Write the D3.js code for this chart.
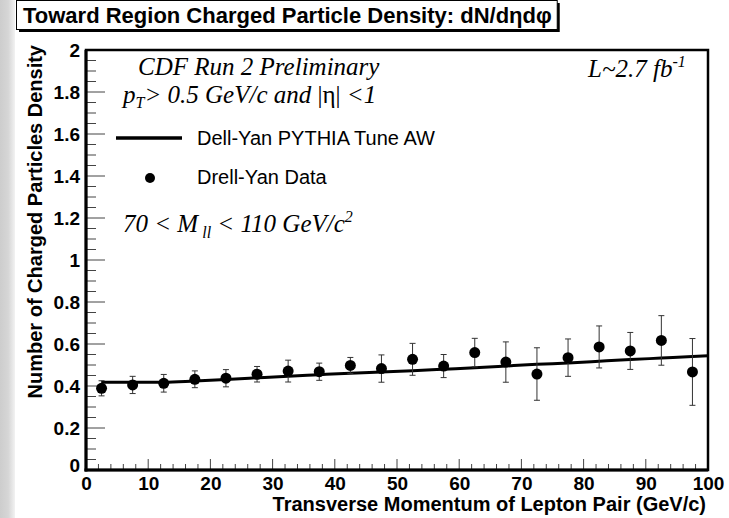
<!DOCTYPE html>
<html>
<head>
<meta charset="utf-8">
<script src="https://cdn.jsdelivr.net/npm/d3@7"></script>
<style>
    body { margin: 0; background: #fff; }
    svg { display: block; }
</style>
</head>
<body>
<svg class="svg" width="729" height="518"></svg>
<script>
// bin centres (GeV/c)
const ptBins = [2.5, 7.5, 12.5, 17.5, 22.5, 27.5, 32.5, 37.5, 42.5, 47.5,
                52.5, 57.5, 62.5, 67.5, 72.5, 77.5, 82.5, 87.5, 92.5, 97.5];
// Drell-Yan data
const dataDensity = [0.389, 0.405, 0.413, 0.432, 0.437, 0.456, 0.471, 0.468, 0.498, 0.483,
                     0.527, 0.495, 0.559, 0.514, 0.457, 0.535, 0.586, 0.567, 0.617, 0.467];
const dataError = [0.036, 0.041, 0.042, 0.040, 0.041, 0.037, 0.052, 0.041, 0.038, 0.065,
                   0.076, 0.055, 0.068, 0.096, 0.125, 0.089, 0.100, 0.088, 0.118, 0.159];
// PYTHIA Tune AW curve
const tuneX = [2.5, 7.5, 12.5, 17.5, 22.5, 27.5, 32.5, 37.5, 42.5, 47.5, 52.5,
               57.5, 62.5, 67.5, 72.5, 77.5, 82.5, 87.5, 92.5, 97.5, 100];
const tuneY = [0.418, 0.418, 0.418, 0.424, 0.431, 0.439, 0.447, 0.454, 0.461, 0.467, 0.473,
               0.480, 0.487, 0.495, 0.503, 0.510, 0.518, 0.526, 0.533, 0.540, 0.544];

const xTicks = [0, 10, 20, 30, 40, 50, 60, 70, 80, 90, 100];
const yTicks = [0, 0.2, 0.4, 0.6, 0.8, 1, 1.2, 1.4, 1.6, 1.8, 2];

const title = 'Toward Region Charged Particle Density: dN/dηdφ';
const xTitle = 'Transverse Momentum of Lepton Pair (GeV/c)';
const yTitle = 'Number of Charged Particles Density';
const legendLine = 'Dell-Yan PYTHIA Tune AW';
const legendData = 'Drell-Yan Data';

const width = 729;
const height = 518;
const padding = { top: 50, right: 21, down: 48, left: 86 };

const sans = 'Liberation Sans, Arial, Helvetica, sans-serif';
const serif = 'Liberation Serif, Times New Roman, serif';

const svg = d3.select('.svg');

/* left grey strip */
const grad = svg.append('defs').append('linearGradient')
    .attr('id', 'strip').attr('x1', 0).attr('x2', 1);
grad.append('stop').attr('offset', '0%').attr('stop-color', '#cdcdcd');
grad.append('stop').attr('offset', '55%').attr('stop-color', '#d6d6d6');
grad.append('stop').attr('offset', '100%').attr('stop-color', '#f2f2f2');
svg.append('rect')
    .attr('x', 0).attr('y', 0)
    .attr('width', 15).attr('height', height)
    .attr('fill', 'url(#strip)');

/* X SCALE */
const xScale = d3.scaleLinear()
    .domain([0, 100])
    .range([padding.left, width - padding.right]);

/* Y SCALE */
const yScale = d3.scaleLinear()
    .domain([0, 2])
    .range([height - padding.down, padding.top]);

/* minor ticks */
const xMinor = d3.range(0, 101, 2);
const yMinor = d3.range(0, 2.001, 0.05);

const xAxis = d3.axisBottom(xScale)
    .tickValues(xTicks)
    .tickFormat(d3.format('d'))
    .tickSize(0)
    .tickPadding(7);
const yAxis = d3.axisLeft(yScale)
    .tickValues(yTicks)
    .tickFormat(d => d % 1 === 0 ? d3.format('d')(d) : d3.format('.1f')(d))
    .tickSize(0)
    .tickPadding(6);

const gx = svg.append('g')
    .attr('id', 'x-axis')
    .attr('transform', `translate(0, ${height - padding.down})`)
    .call(xAxis);
const gy = svg.append('g')
    .attr('id', 'y-axis')
    .attr('transform', `translate(${padding.left}, 0)`)
    .call(yAxis);
[gx, gy].forEach(g => {
    g.select('.domain').remove();
    g.selectAll('text')
        .attr('fill', '#000')
        .style('font-family', sans)
        .style('font-weight', 'bold')
        .style('font-size', '19px');
});
gx.selectAll('text').attr('dy', '0.68em');
gy.selectAll('.tick text').attr('dy', '0.36em');
gy.selectAll('.tick').filter(d => d === 0).select('text').attr('dy', '0.1em');

/* tick marks inside the frame */
svg.append('g').selectAll('line')
    .data(xMinor).enter()
    .append('line')
    .attr('x1', d => xScale(d)).attr('x2', d => xScale(d))
    .attr('y1', yScale(0))
    .attr('y2', d => yScale(0) - (d % 10 === 0 ? 11 : 6))
    .attr('stroke', '#444').attr('stroke-width', 1);
svg.append('g').selectAll('line')
    .data(yMinor).enter()
    .append('line')
    .attr('y1', d => yScale(d)).attr('y2', d => yScale(d))
    .attr('x1', xScale(0))
    .attr('x2', d => xScale(0) + (Math.abs(d * 5 - Math.round(d * 5)) < 1e-6 ? 19 : 10))
    .attr('stroke', '#444').attr('stroke-width', 1);

/* frame */
svg.append('rect')
    .attr('x', xScale(0)).attr('y', yScale(2))
    .attr('width', xScale(100) - xScale(0))
    .attr('height', yScale(0) - yScale(2))
    .attr('fill', 'none')
    .attr('stroke', '#000').attr('stroke-width', 2.5);
svg.append('line')
    .attr('x1', xScale(0)).attr('x2', xScale(0))
    .attr('y1', yScale(2)).attr('y2', yScale(0) + 1.5)
    .attr('stroke', '#000').attr('stroke-width', 3);
svg.append('line')
    .attr('x1', xScale(0) - 1.5).attr('x2', xScale(100))
    .attr('y1', yScale(0)).attr('y2', yScale(0))
    .attr('stroke', '#000').attr('stroke-width', 3);

/* PYTHIA curve */
const line = d3.line()
    .x((d, i) => xScale(tuneX[i]))
    .y(d => yScale(d))
    .curve(d3.curveMonotoneX);
svg.append('path')
    .datum(tuneY)
    .attr('d', line)
    .attr('fill', 'none')
    .attr('stroke', '#000')
    .attr('stroke-width', 3);

/* error bars */
const bars = svg.append('g').attr('class', 'errors');
bars.selectAll('line.err')
    .data(dataDensity).enter()
    .append('line')
    .attr('class', 'err')
    .attr('x1', (d, i) => xScale(ptBins[i])).attr('x2', (d, i) => xScale(ptBins[i]))
    .attr('y1', (d, i) => yScale(d - dataError[i]))
    .attr('y2', (d, i) => yScale(d + dataError[i]))
    .attr('stroke', '#333').attr('stroke-width', 1);
[1, -1].forEach(s => {
    bars.selectAll(`line.cap${s > 0 ? 'top' : 'bot'}`)
        .data(dataDensity).enter()
        .append('line')
        .attr('class', `cap${s > 0 ? 'top' : 'bot'}`)
        .attr('x1', (d, i) => xScale(ptBins[i]) - 3).attr('x2', (d, i) => xScale(ptBins[i]) + 3)
        .attr('y1', (d, i) => yScale(d + s * dataError[i]))
        .attr('y2', (d, i) => yScale(d + s * dataError[i]))
        .attr('stroke', '#333').attr('stroke-width', 1);
});

/* points */
svg.append('g').selectAll('circle')
    .data(dataDensity).enter()
    .append('circle')
    .attr('cx', (d, i) => xScale(ptBins[i]))
    .attr('cy', d => yScale(d))
    .attr('r', 5.5)
    .attr('fill', '#000');

/* axis titles */
svg.append('text')
    .attr('x', xScale(100) - 2)
    .attr('y', 511)
    .attr('text-anchor', 'end')
    .style('font-family', sans).style('font-weight', 'bold').style('font-size', '20px')
    .text(xTitle);
svg.append('text')
    .attr('transform', 'translate(42, 45) rotate(-90)')
    .attr('text-anchor', 'end')
    .style('font-family', sans).style('font-weight', 'bold').style('font-size', '20px')
    .text(yTitle);

/* title box */
const titleBox = svg.append('g').attr('id', 'title');
const shadow = titleBox.append('rect');
const box = titleBox.append('rect');
const titleText = titleBox.append('text')
    .attr('x', 23).attr('y', 23)
    .style('font-family', sans).style('font-weight', 'bold').style('font-size', '22px')
    .text(title);
const tw = titleText.node().getComputedTextLength();
shadow.attr('x', 19).attr('y', 3)
    .attr('width', tw + 12).attr('height', 29)
    .attr('fill', '#000');
box.attr('x', 16.5).attr('y', 0.5)
    .attr('width', tw + 12).attr('height', 29)
    .attr('fill', '#fff')
    .attr('stroke', '#000').attr('stroke-width', 1);

/* annotations */
const note = (x, y) => svg.append('text')
    .attr('x', x).attr('y', y)
    .style('font-family', serif).style('font-style', 'italic').style('font-size', '25px');

note(138, 75).text('CDF Run 2 Preliminary');

const pt = note(123, 103);
pt.append('tspan').text('p');
pt.append('tspan').attr('dy', 5).style('font-size', '16px').text('T');
pt.append('tspan').attr('dy', -5).text('> 0.5  GeV/c and ');
pt.append('tspan').style('font-style', 'normal').text('|η|');
pt.append('tspan').text(' <1');

const mll = note(123, 232);
mll.append('tspan').text('70 < M');
mll.append('tspan').attr('dy', 6).style('font-size', '16px').text(' ll');
mll.append('tspan').attr('dy', -6).text(' < 110 GeV/c');
mll.append('tspan').attr('dy', -10).style('font-size', '16px').text('2');

const lum = note(588, 77);
lum.append('tspan').text('L~2.7 fb');
lum.append('tspan').attr('dy', -10).style('font-size', '16px').text('-1');

/* LEGEND */
const legend = svg.append('g').attr('id', 'legend');
legend.append('line')
    .attr('x1', 116).attr('x2', 182)
    .attr('y1', 138).attr('y2', 138)
    .attr('stroke', '#000').attr('stroke-width', 3.5);
legend.append('circle')
    .attr('cx', 150).attr('cy', 178).attr('r', 5)
    .attr('fill', '#000');
legend.selectAll('text')
    .data([legendLine, legendData]).enter()
    .append('text')
    .attr('x', 197)
    .attr('y', (d, i) => 145 + i * 39)
    .style('font-family', sans).style('font-size', '20px')
    .text(d => d);
</script>
</body>
</html>
